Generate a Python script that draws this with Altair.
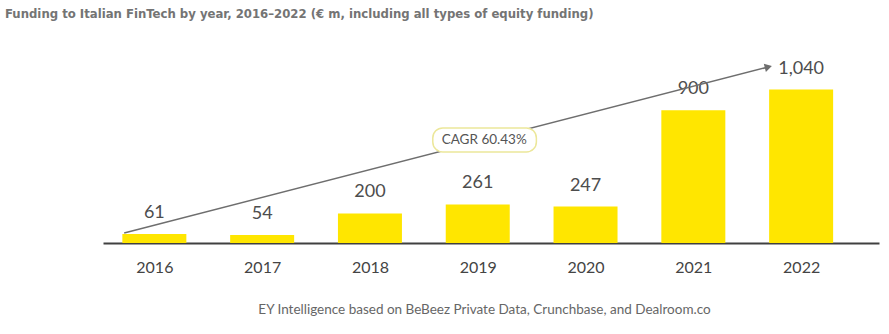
import altair as alt
import pandas as pd

years = [2016, 2017, 2018, 2019, 2020, 2021, 2022]
funding = [61, 54, 200, 261, 247, 900, 1040]

# trend arrow (annotation) in data units
trend_x = [2015.72, 2021.696]
trend_y = [68, 1193]
cagr_label = "CAGR 60.43%"
cagr_x = 2019.06
cagr_y = 698
cagr_box_x = [2018.583, 2019.544]
cagr_box_y = [617, 780]

title_text = "Funding to Italian FinTech by year, 2016–2022 (€ m, including all types of equity funding)"
source_text = "EY Intelligence based on BeBeez Private Data, Crunchbase, and Dealroom.co"

df = pd.DataFrame({"year": years, "value": funding})
trend = pd.DataFrame({"x": trend_x, "y": trend_y})
arrow = pd.DataFrame({"x": [trend_x[-1]], "y": [trend_y[-1]]})
box = pd.DataFrame({"x": [cagr_box_x[0]], "x2": [cagr_box_x[1]],
                    "y": [cagr_box_y[0]], "y2": [cagr_box_y[1]],
                    "xc": [cagr_x], "yc": [cagr_y], "t": [cagr_label]})

FONT = "Lato"
xscale = alt.Scale(domain=[2015.570, 2022.676], nice=False, zero=False)
yscale = alt.Scale(domain=[0, 1308], nice=False)

x_enc = alt.X("year:Q", scale=xscale,
              axis=alt.Axis(values=years, format="d", grid=False, ticks=False, tickSize=0,
                            domainColor="#404040", domainWidth=2,
                            labelFont=FONT, labelFontSize=16, labelColor="#444444",
                            labelPadding=16,
                            title=source_text, titleFont=FONT, titleFontSize=13.5,
                            titleFontWeight="normal", titleColor="#666666",
                            titleY=59, titleBaseline="top", titleX=381))
y_enc = alt.Y("value:Q", scale=yscale, axis=None)

bars = alt.Chart(df).mark_bar(color="#FFE600", size=64).encode(x=x_enc, y=y_enc)
labels = alt.Chart(df).mark_text(font=FONT, fontSize=18, color="#4d4d4d", dy=-21,
                                 baseline="middle").encode(
    x="year:Q", y="value:Q", text=alt.Text("value:Q", format=","))

line = alt.Chart(trend).mark_line(color="#6e6e6e", strokeWidth=1.5).encode(
    x=alt.X("x:Q", scale=xscale), y=alt.Y("y:Q", scale=yscale))
head = alt.Chart(arrow).mark_point(shape="triangle-right", filled=True, color="#6e6e6e",
                                   size=70, angle=345.7, opacity=1).encode(
    x=alt.X("x:Q", scale=xscale), y=alt.Y("y:Q", scale=yscale))
rect = alt.Chart(box).mark_rect(fill="white", stroke="#ece79a", strokeWidth=1.5,
                                cornerRadius=10).encode(
    x=alt.X("x:Q", scale=xscale), x2="x2:Q",
    y=alt.Y("y:Q", scale=yscale), y2="y2:Q")
ctext = alt.Chart(box).mark_text(font=FONT, fontSize=13.5, color="#555555").encode(
    x=alt.X("xc:Q", scale=xscale), y=alt.Y("yc:Q", scale=yscale), text="t:N")

chart = alt.layer(bars, labels, line, head, rect, ctext).properties(
    width=776, height=193,
    autosize=alt.AutoSizeParams(type="none"),
    padding={"left": 103, "top": 50, "right": 10, "bottom": 91},
    title=alt.TitleParams(title_text, anchor="start", frame="group", dx=-98, offset=29,
                          font="DejaVu Sans Condensed, sans-serif",
                          fontSize=13, fontWeight="bold", color="#747474"),
).configure(background="white", view=alt.ViewConfig(strokeWidth=0, stroke="transparent"))

chart.save("out.html", embed_options={"renderer": "svg", "actions": False})
